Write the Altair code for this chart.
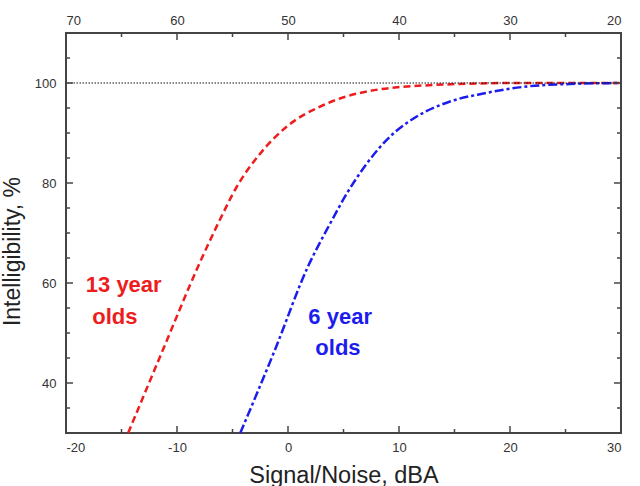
import altair as alt
import pandas as pd

# ---- data ----
red_x = [-14.4, -11.2, -8.1, -6.3, -4.6, -2.5, -0.1, 3.2, 7.1, 13.1, 20.6, 30.0]
red_y = [30.0, 47.0, 63.3, 71.9, 79.3, 85.9, 91.3, 95.6, 98.3, 99.6, 100.0, 100.0]

blue_x = [-4.3, -1.2, 1.8, 3.8, 5.3, 7.1, 9.2, 11.6, 14.6, 17.6, 21.5, 25.4, 30.0]
blue_y = [30.0, 46.5, 63.3, 71.9, 77.9, 83.9, 89.3, 93.3, 96.3, 97.9, 99.3, 99.8, 100.0]

ref_level = [100]

x_label_values = [-20, -10, 0, 10, 20, 30]
y_label_values = [40, 60, 80, 100]
x_major = [-10, 0, 10, 20]
x_minor = [-15, -5, 5, 15, 25]
y_major = [40, 60, 80, 100]
y_minor = [35, 45, 50, 55, 65, 70, 75, 85, 90, 95, 105]

label_text = ["13 year", "olds", "6 year", "olds"]
label_x = [-14.8, -15.6, 4.7, 4.5]
label_y = [59.6, 53.2, 53.2, 47.0]
label_group = ["13", "13", "6", "6"]

RED = "#ee1c1c"
BLUE = "#1c1cee"
FRAME = "#444444"
FONT = "Liberation Sans"

W, H = 555, 400
MAJ, MIN = 7, 4

xs = alt.Scale(domain=[-20, 30], nice=False, zero=False)
ys = alt.Scale(domain=[30, 110], nice=False, zero=False)

red_df = pd.DataFrame({"x": red_x, "y": red_y})
blue_df = pd.DataFrame({"x": blue_x, "y": blue_y})
ref_df = pd.DataFrame({"y": ref_level})
lab_df = pd.DataFrame({"x": label_x, "y": label_y, "t": label_text, "g": label_group})

bottom_axis = alt.Axis(
    values=x_label_values, ticks=False, domain=False, grid=False,
    labelPadding=8, labelFontSize=13, labelExpr="'' + datum.value",
    title="Signal/Noise, dBA", titleFontSize=23.5, titleFontWeight="normal",
    titleBaseline="alphabetic", titleY=49,
)
left_axis = alt.Axis(
    values=y_label_values, ticks=False, domain=False, grid=False,
    labelPadding=10, labelFontSize=13, labelExpr="'' + datum.value",
    title="Intelligibility, %", titleFontSize=23, titleFontWeight="normal",
    titleAngle=-90, titleBaseline="alphabetic", titleAlign="center",
    titleX=-47, titleY=218,
)
top_axis = alt.Axis(
    orient="top", values=x_label_values, ticks=False, domain=False, grid=False,
    labelPadding=6, labelFontSize=13, labelExpr="'' + (50 - datum.value)",
    title=None,
)

red = alt.Chart(red_df).mark_line(
    color=RED, strokeDash=[7, 4], strokeWidth=2.5, interpolate="monotone", clip=True
).encode(
    x=alt.X("x:Q", scale=xs, axis=bottom_axis),
    y=alt.Y("y:Q", scale=ys, axis=left_axis),
)

blue = alt.Chart(blue_df).mark_line(
    color=BLUE, strokeDash=[9, 3, 3, 3], strokeWidth=2.5, interpolate="monotone", clip=True
).encode(
    x=alt.X("x:Q", scale=xs, axis=None),
    y=alt.Y("y:Q", scale=ys, axis=None),
)

ref = alt.Chart(ref_df).mark_rule(color="#111111", strokeDash=[1.5, 1.5], strokeWidth=1).encode(
    y=alt.Y("y:Q", scale=ys, axis=None)
)

def xticks(vals, length, top_axis_here=False):
    df = pd.DataFrame({"x": vals})
    ax = top_axis if top_axis_here else None
    bot = alt.Chart(df).mark_rule(color=FRAME, strokeWidth=1.5).encode(
        x=alt.X("x:Q", scale=xs, axis=ax), y=alt.value(H), y2=alt.value(H - length)
    )
    top = alt.Chart(df).mark_rule(color=FRAME, strokeWidth=1.5).encode(
        x=alt.X("x:Q", scale=xs, axis=None), y=alt.value(0), y2=alt.value(length)
    )
    return [bot, top]

def yticks(vals, length):
    df = pd.DataFrame({"y": vals})
    left = alt.Chart(df).mark_rule(color=FRAME, strokeWidth=1.5).encode(
        y=alt.Y("y:Q", scale=ys, axis=None), x=alt.value(0), x2=alt.value(length)
    )
    right = alt.Chart(df).mark_rule(color=FRAME, strokeWidth=1.5).encode(
        y=alt.Y("y:Q", scale=ys, axis=None), x=alt.value(W), x2=alt.value(W - length)
    )
    return [left, right]

labels = alt.Chart(lab_df).mark_text(
    font=FONT, fontSize=22, fontWeight="bold", align="center", baseline="middle"
).encode(
    x=alt.X("x:Q", scale=xs, axis=None),
    y=alt.Y("y:Q", scale=ys, axis=None),
    text="t:N",
    color=alt.Color("g:N", scale=alt.Scale(domain=["13", "6"], range=[RED, BLUE]), legend=None),
)

layers = [red, blue, ref]
layers += xticks(x_major, MAJ, top_axis_here=True)
layers += xticks(x_minor, MIN)
layers += yticks(y_major, MAJ)
layers += yticks(y_minor, MIN)
layers += [labels]

chart = alt.layer(*layers).resolve_scale(
    x="shared", y="shared"
).resolve_axis(
    x="independent", y="independent"
).properties(
    width=W, height=H,
    padding={"left": 66, "top": 33, "right": 19, "bottom": 53},
    autosize=alt.AutoSizeParams(type="none"),
    background="white",
).configure_view(
    stroke=FRAME, strokeWidth=2
).configure_axis(
    labelFont=FONT, titleFont=FONT, labelColor="#333333", titleColor="#222222"
)

chart.save("out.html", embed_options={"renderer": "svg", "actions": False})
